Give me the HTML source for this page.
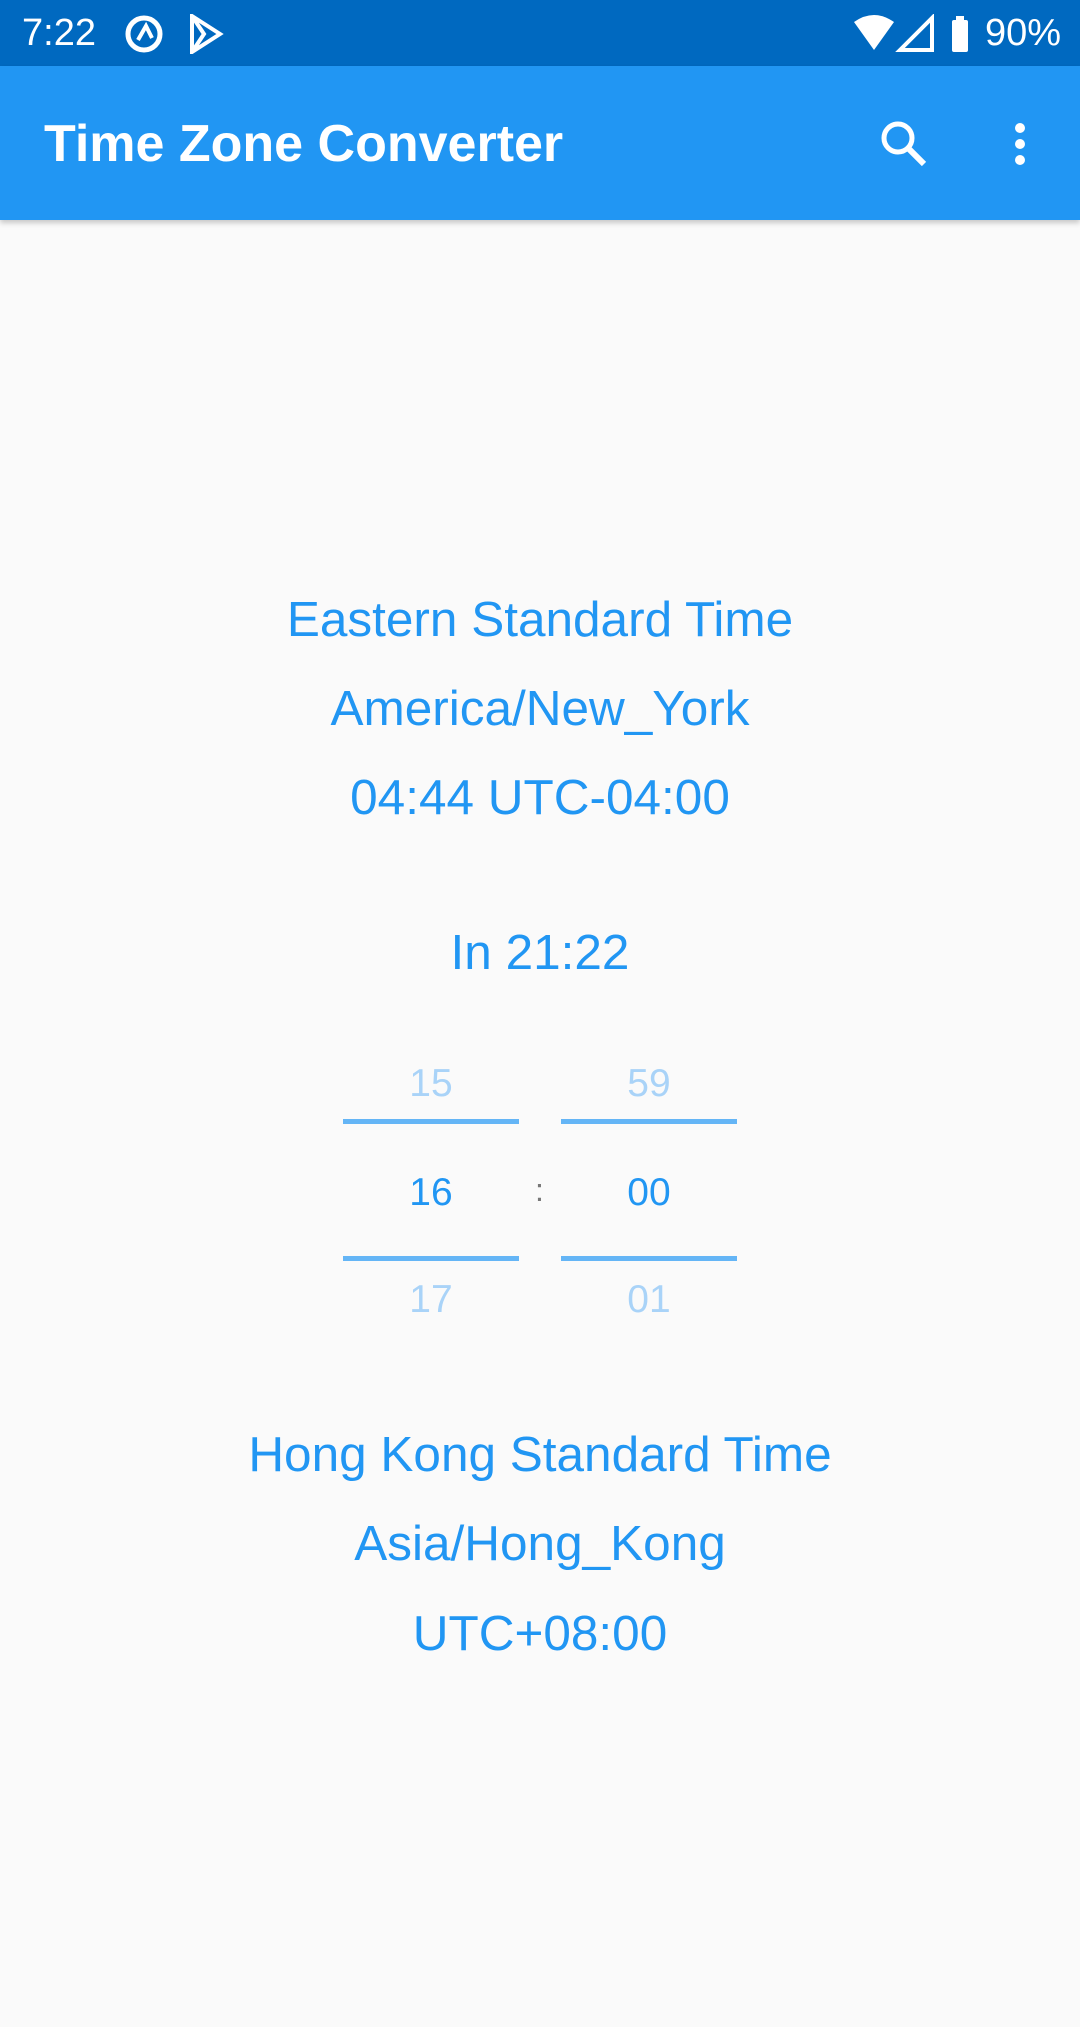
<!DOCTYPE html>
<html><head><meta charset="utf-8">
<style>
html,body{margin:0;padding:0;}
body{width:1080px;height:2027px;background:#fafafa;position:relative;overflow:hidden;font-family:"Liberation Sans",sans-serif;}
.abs{position:absolute;}
.status{left:0;top:0;width:1080px;height:66px;background:#0069c0;color:#fff;}
.appbar{left:0;top:66px;width:1080px;height:154px;background:#2196f3;box-shadow:0 3px 5px rgba(0,0,0,0.2);}
.t{left:0;width:1080px;text-align:center;color:#2196f3;font-size:49.5px;line-height:60px;}
.num{width:176px;text-align:center;font-size:39px;line-height:50px;}
.line{height:5px;background:#64b5f6;width:176px;}
</style></head><body>
<div class="abs status">
  <div class="abs" style="left:22px;top:12px;font-size:38px;line-height:42px;">7:22</div>
  <svg class="abs" style="left:124px;top:14px" width="44" height="40">
    <circle cx="20" cy="20" r="16" fill="none" stroke="#fff" stroke-width="5"/>
    <path d="M14 26 L22 12 L28 24" fill="none" stroke="#fff" stroke-width="4"/>
  </svg>
  <svg class="abs" style="left:190px;top:14px" width="36" height="40">
    <path d="M2 2 L30 20 L2 38 Z M2 2 L14 20 L2 38" fill="none" stroke="#fff" stroke-width="4"/>
  </svg>
  <svg class="abs" style="left:852px;top:14px" width="140" height="40">
    <path d="M2 8 Q22 -6 42 8 L22 36 Z" fill="#fff"/>
    <path d="M48 36 L80 4 L80 36 Z" fill="none" stroke="#fff" stroke-width="4"/>
    <rect x="100" y="6" width="16" height="32" rx="2" fill="#fff"/>
    <rect x="104" y="2" width="8" height="5" fill="#fff"/>
  </svg>
  <div class="abs" style="left:985px;top:12px;font-size:38px;line-height:42px;">90%</div>
</div>
<div class="abs appbar">
  <div class="abs" style="left:44px;top:50px;color:#fff;font-size:52px;line-height:56px;font-weight:bold;">Time Zone Converter</div>
  <svg class="abs" style="left:876px;top:50px" width="56" height="56">
    <circle cx="22" cy="22" r="14" fill="none" stroke="#fff" stroke-width="5"/>
    <path d="M32 32 L48 48" stroke="#fff" stroke-width="6"/>
  </svg>
  <svg class="abs" style="left:1008px;top:52px" width="24" height="56">
    <circle cx="12" cy="10" r="5" fill="#fff"/><circle cx="12" cy="26" r="5" fill="#fff"/><circle cx="12" cy="42" r="5" fill="#fff"/>
  </svg>
</div>
<div class="abs t" style="top:590px">Eastern Standard Time</div>
<div class="abs t" style="top:679px">America/New_York</div>
<div class="abs t" style="top:768px">04:44 UTC-04:00</div>
<div class="abs t" style="top:923px">In 21:22</div>

<div class="abs num" style="left:343px;top:1059px;color:#a9d3f8">15</div>
<div class="abs line" style="left:343px;top:1119px"></div>
<div class="abs num" style="left:343px;top:1168px;color:#2196f3">16</div>
<div class="abs line" style="left:343px;top:1256px"></div>
<div class="abs num" style="left:343px;top:1275px;color:#a9d3f8">17</div>

<div class="abs" style="left:535px;top:1172px;font-size:32px;color:#777">:</div>

<div class="abs num" style="left:561px;top:1059px;color:#a9d3f8">59</div>
<div class="abs line" style="left:561px;top:1119px"></div>
<div class="abs num" style="left:561px;top:1168px;color:#2196f3">00</div>
<div class="abs line" style="left:561px;top:1256px"></div>
<div class="abs num" style="left:561px;top:1275px;color:#a9d3f8">01</div>

<div class="abs t" style="top:1425px">Hong Kong Standard Time</div>
<div class="abs t" style="top:1514px">Asia/Hong_Kong</div>
<div class="abs t" style="top:1604px">UTC+08:00</div>
</body></html>
